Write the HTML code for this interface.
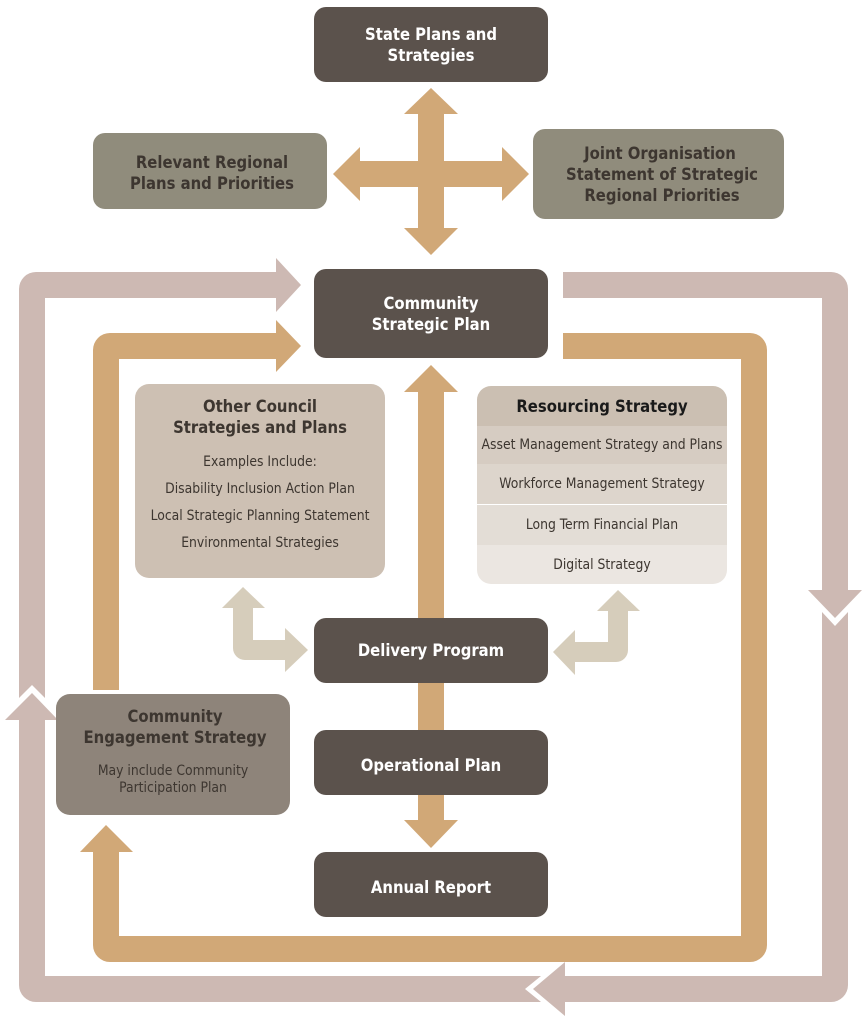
<!DOCTYPE html>
<html><head><meta charset="utf-8"><style>
body{margin:0;background:#fff}
svg{display:block}
text{font-family:"DejaVu Sans Condensed","Liberation Sans",sans-serif;font-weight:bold;text-anchor:middle}
.s{font-weight:normal;font-size:13.8px}
</style></head><body>
<svg width="864" height="1018" viewBox="0 0 864 1018" xmlns="http://www.w3.org/2000/svg">
<!-- outer pink loop -->
<g fill="#cdb9b3">
<path d="M19 718 V985 a17 17 0 0 0 17 17 H541 L525 989 L541 976 H45 V718 Z"/>
<path d="M5 720 L32 693 L58 720 Z"/>
<path d="M19 698 L32 685 L45 698 V298 H276 V272 H36 a17 17 0 0 0 -17 17 Z"/>
<path d="M276 258 L301 285 L276 312 Z"/>
<path d="M563 272 H831 a17 17 0 0 1 17 17 V592 H822 V298 H563 Z"/>
<path d="M808 590 L862 590 L835 618 Z"/>
<path d="M822 612 L835 626 L848 612 V985 a17 17 0 0 1 -17 17 H565 V976 H822 Z"/>
<path d="M565 962 L565 1016 L533 989 Z"/>
</g>
<!-- tan loop -->
<g fill="#d1a877">
<path d="M93 690 V350 a17 17 0 0 1 17 -17 H276 V359 H119 V690 Z"/>
<path d="M276 320 L301 346 L276 372 Z"/>
<path d="M563 333 H750 a17 17 0 0 1 17 17 V945 a17 17 0 0 1 -17 17 H110 a17 17 0 0 1 -17 -17 V850 H119 V936 H741 V359 H563 Z"/>
<path d="M80 852 L106 825 L133 852 Z"/>
<rect x="418" y="390" width="26" height="432"/>
<path d="M404 392 L431 365 L458 392 Z"/>
<path d="M404 820 L458 820 L431 848 Z"/>
<rect x="418" y="110" width="26" height="122"/>
<rect x="357" y="161" width="148" height="26"/>
<path d="M404 114 L431 88 L458 114 Z"/>
<path d="M404 228 L458 228 L431 255 Z"/>
<path d="M360 147 L333 174 L360 201 Z"/>
<path d="M502 147 L529 174 L502 201 Z"/>
</g>
<!-- bent arrows -->
<g fill="#d6cdbb">
<path d="M233 607 V648 a12 12 0 0 0 12 12 H286 V640 H253 V607 Z"/>
<path d="M222 608 L243 587 L265 608 Z"/>
<path d="M285 628 L308 650 L285 672 Z"/>
<path d="M628 610 V650 a12 12 0 0 1 -12 12 H575 V642 H608 V610 Z"/>
<path d="M597 611 L618 590 L640 611 Z"/>
<path d="M575 630 L553 652 L575 675 Z"/>
</g>
<!-- boxes -->
<rect x="314" y="7" width="234" height="75" rx="12" fill="#5b524c"/>
<text x="431" y="40" font-size="16.5" fill="#fff">State Plans and</text>
<text x="431" y="61" font-size="16.5" fill="#fff">Strategies</text>
<rect x="93" y="133" width="234" height="76" rx="12" fill="#908c7c"/>
<text x="212" y="168" font-size="16.5" fill="#3d3630">Relevant Regional</text>
<text x="212" y="189" font-size="16.5" fill="#3d3630">Plans and Priorities</text>
<rect x="533" y="129" width="251" height="90" rx="12" fill="#908c7c"/>
<text x="660" y="159" font-size="16.5" fill="#3d3630">Joint Organisation</text>
<text x="662" y="180" font-size="16.5" fill="#3d3630">Statement of Strategic</text>
<text x="662" y="201" font-size="16.5" fill="#3d3630">Regional Priorities</text>
<rect x="314" y="269" width="234" height="89" rx="12" fill="#5b524c"/>
<text x="431" y="309" font-size="16.5" fill="#fff">Community</text>
<text x="431" y="330" font-size="16.5" fill="#fff">Strategic Plan</text>
<rect x="135" y="384" width="250" height="194" rx="14" fill="#cdc0b3"/>
<text x="260" y="412" font-size="16.5" fill="#3d3630">Other Council</text>
<text x="260" y="433" font-size="16.5" fill="#3d3630">Strategies and Plans</text>
<text class="s" x="260" y="466" fill="#3d3630">Examples Include:</text>
<text class="s" x="260" y="493" fill="#3d3630">Disability Inclusion Action Plan</text>
<text class="s" x="260" y="520" fill="#3d3630">Local Strategic Planning Statement</text>
<text class="s" x="260" y="547" fill="#3d3630">Environmental Strategies</text>
<clipPath id="rc"><rect x="477" y="386" width="250" height="198" rx="14"/></clipPath>
<g clip-path="url(#rc)">
<rect x="477" y="386" width="250" height="40" fill="#cbbfb2"/>
<rect x="477" y="426" width="250" height="38" fill="#d6ccc2"/>
<rect x="477" y="464" width="250" height="40" fill="#ddd5cc"/>
<rect x="477" y="505" width="250" height="40" fill="#e3ddd6"/>
<rect x="477" y="545" width="250" height="39" fill="#ebe6e1"/>
<rect x="477" y="504" width="250" height="1" fill="#fff"/>
</g>
<text x="602" y="412" font-size="16.5" fill="#1a1a1a">Resourcing Strategy</text>
<text class="s" x="602" y="449" fill="#3d3630">Asset Management Strategy and Plans</text>
<text class="s" x="602" y="488" fill="#3d3630">Workforce Management Strategy</text>
<text class="s" x="602" y="529" fill="#3d3630">Long Term Financial Plan</text>
<text class="s" x="602" y="569" fill="#3d3630">Digital Strategy</text>
<rect x="314" y="618" width="234" height="65" rx="12" fill="#5b524c"/>
<text x="431" y="656" font-size="16.5" fill="#fff">Delivery Program</text>
<rect x="314" y="730" width="234" height="65" rx="12" fill="#5b524c"/>
<text x="431" y="771" font-size="16.5" fill="#fff">Operational Plan</text>
<rect x="314" y="852" width="234" height="65" rx="12" fill="#5b524c"/>
<text x="431" y="893" font-size="16.5" fill="#fff">Annual Report</text>
<rect x="56" y="694" width="234" height="121" rx="14" fill="#8e847a"/>
<text x="175" y="722" font-size="16.5" fill="#3d3630">Community</text>
<text x="175" y="743" font-size="16.5" fill="#3d3630">Engagement Strategy</text>
<text class="s" x="173" y="775" fill="#3d3630">May include Community</text>
<text class="s" x="173" y="792" fill="#3d3630">Participation Plan</text>
</svg>
</body></html>
